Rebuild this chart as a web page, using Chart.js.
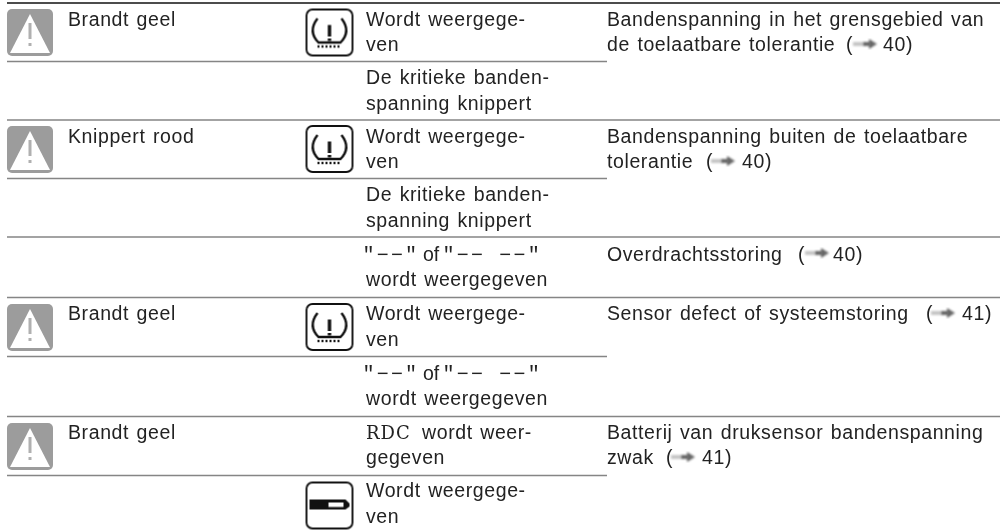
<!DOCTYPE html>
<html>
<head>
<meta charset="utf-8">
<script src="https://cdn.jsdelivr.net/npm/chart.js@4"></script>
<style>
  html, body { margin: 0; padding: 0; background: #fff; }
  #tableChart { display: block; }
</style>
</head>
<body>
<canvas id="tableChart" width="1000" height="532"></canvas>
<script>
// Lijnen van de tabel
const ruleY = [3, 61.5, 120, 178.5, 237, 297.5, 356.5, 416.5, 475.5];
const ruleEnd = [1000, 607, 1000, 607, 1000, 1000, 607, 1000, 607];

// Tekst per kolom
const lampLines = ['Brandt geel', 'Knippert rood', 'Brandt geel', 'Brandt geel'];
const lampBaselines = [26, 143, 320, 439];

const displayLines = [
    'Wordt weergege-', 'ven', 'De kritieke banden-', 'spanning knippert',
    'Wordt weergege-', 'ven', 'De kritieke banden-', 'spanning knippert',
    'wordt weergegeven', 'Wordt weergege-', 'ven', 'wordt weergegeven',
    'gegeven', 'Wordt weergege-', 'ven'
];
const displayBaselines = [26, 51, 84, 110, 143, 168, 201, 227, 286, 320, 346, 405, 464, 497, 523];

const causeLines = [
    'Bandenspanning in het grensgebied van', 'de toelaatbare tolerantie', '(', '40)',
    'Bandenspanning buiten de toelaatbare', 'tolerantie', '(', '40)',
    'Overdrachtsstoring', '(', '40)',
    'Sensor defect of systeemstoring', '(', '41)',
    'Batterij van druksensor bandenspanning', 'zwak', '(', '41)'
];
const causeX = [607, 607, 846, 883, 607, 607, 706, 742, 607, 798, 833, 607, 926, 962, 607, 607, 666, 702];
const causeBaselines = [26, 51, 51, 51, 143, 168, 168, 168, 261, 261, 261, 320, 320, 320, 439, 464, 464, 464];

// Iconen
const warningX = [30, 30, 30, 30];
const warningY = [32, 149, 327, 446];
const tireX = [329.5, 329.5, 329.5];
const tireY = [32.5, 149, 327];
const batteryX = [329.5];
const batteryY = [505.5];
const arrowX = [865, 723, 817, 943, 683];
const arrowY = [44, 161, 253, 313, 457];

const SANS = '"Liberation Sans"';
const MONO = '"Liberation Mono"';

function makeIcon(w, h, draw) {
    const c = document.createElement('canvas');
    c.width = w;
    c.height = h;
    const g = c.getContext('2d');
    g.filter = 'blur(0.5px)';
    draw(g);
    return c;
}

function roundBox(g, x, y, w, h, r) {
    g.beginPath();
    g.roundRect(x, y, w, h, r);
}

const warningIcon = makeIcon(50, 50, g => {
    g.fillStyle = '#9c9c9c';
    roundBox(g, 2, 2, 46, 47, 5);
    g.fill();
    g.fillStyle = '#fff';
    g.beginPath();
    g.moveTo(25, 7);
    g.lineTo(45, 46);
    g.lineTo(5, 46);
    g.closePath();
    g.fill();
    g.fillStyle = '#b0b0b0';
    g.fillRect(23.5, 16, 3, 16);
    g.fillRect(23.5, 36, 3, 3);
});

function iconBox(g) {
    g.strokeStyle = '#111';
    g.lineWidth = 1.9;
    g.fillStyle = '#fff';
    roundBox(g, 2, 2, 46, 46, 6);
    g.fill();
    g.stroke();
}

const tireIcon = makeIcon(50, 50, g => {
    iconBox(g);
    g.strokeStyle = '#111';
    g.lineWidth = 2.4;
    g.beginPath();
    g.moveTo(13, 11);
    g.quadraticCurveTo(3, 24, 14, 35);
    g.lineTo(36, 35);
    g.quadraticCurveTo(47, 24, 37, 11);
    g.stroke();
    g.setLineDash([2, 2]);
    g.lineWidth = 2.4;
    g.beginPath();
    g.moveTo(13, 39);
    g.lineTo(37, 39);
    g.stroke();
    g.setLineDash([]);
    g.fillStyle = '#111';
    g.fillRect(23.3, 17.5, 3.4, 11.5);
    g.fillRect(23.3, 31, 3.4, 2.5);
});

const batteryIcon = makeIcon(50, 50, g => {
    iconBox(g);
    g.fillStyle = '#111';
    g.beginPath();
    g.moveTo(5, 19);
    g.lineTo(41, 19);
    g.lineTo(45, 23);
    g.lineTo(45, 26);
    g.lineTo(41, 29);
    g.lineTo(5, 29);
    g.closePath();
    g.fill();
    g.fillStyle = '#fff';
    g.fillRect(24, 22, 15, 4.5);
});

const arrowIcon = makeIcon(28, 12, g => {
    g.filter = 'blur(0.9px)';
    g.fillStyle = '#c4c4c4';
    g.fillRect(2, 4, 10, 4);
    g.fillStyle = '#666';
    g.fillRect(12, 4, 8, 4);
    g.beginPath();
    g.moveTo(18, 1);
    g.lineTo(26, 6);
    g.lineTo(18, 11);
    g.closePath();
    g.fill();
});

function toPoints(xs, ys) {
    return xs.map((x, i) => ({ x: x, y: ys[i] }));
}

const ruleDatasets = ruleY.map((y, i) => ({
    type: 'line',
    data: [{ x: 7, y: y }, { x: ruleEnd[i], y: y }],
    borderColor: i === 0 ? '#111' : '#858585',
    borderWidth: i === 0 ? 1.6 : 1.5,
    pointRadius: 0
}));

function iconDataset(xs, ys, icon) {
    return {
        type: 'scatter',
        data: toPoints(xs, ys),
        pointStyle: icon,
        pointRadius: 10,
        clip: false
    };
}

// Tekst tekenen op de schaal van de grafiek
const tableText = {
    id: 'tableText',
    afterDatasetsDraw(chart) {
        const { ctx, scales } = chart;
        const put = (text, x, y, font, spacing, words) => {
            ctx.font = font;
            ctx.letterSpacing = spacing || '0px';
            ctx.wordSpacing = words || '0px';
            ctx.fillText(text, scales.x.getPixelForValue(x), scales.y.getPixelForValue(y));
        };
        ctx.save();
        ctx.fillStyle = '#222';
        ctx.textBaseline = 'alphabetic';
        ctx.textAlign = 'left';
        const body = '19.5px ' + SANS;
        lampLines.forEach((t, i) => put(t, 68, lampBaselines[i], body, '0.6px', '1.5px'));
        displayLines.forEach((t, i) => put(t, 366, displayBaselines[i], body, '0.6px', '1.5px'));
        causeLines.forEach((t, i) => put(t, causeX[i], causeBaselines[i], body, '0.6px', '1.5px'));

        // gemengde regels met vaste breedte
        const mono = '20px ' + MONO;
        [261, 380].forEach(y => {
            put('"−−"', 362.5, y, mono, '2.2px');
            put('of', 423, y, body);
            put('"−− −−"', 442.5, y, mono, '2.2px');
        });
        put('RDC', 366, 439, '18px "DejaVu Serif"', '1px');
        put('wordt weer-', 422, 439, body, '0.6px', '1.5px');
        ctx.restore();
    }
};

new Chart(document.getElementById('tableChart').getContext('2d'), {
    data: {
        datasets: [
            ...ruleDatasets,
            iconDataset(warningX, warningY, warningIcon),
            iconDataset(tireX, tireY, tireIcon),
            iconDataset(batteryX, batteryY, batteryIcon),
            iconDataset(arrowX, arrowY, arrowIcon)
        ]
    },
    options: {
        responsive: false,
        animation: false,
        layout: { padding: 0, autoPadding: false },
        events: [],
        plugins: {
            legend: { display: false },
            title: { display: false },
            tooltip: { enabled: false }
        },
        scales: {
            x: { type: 'linear', min: 0, max: 1000, display: false },
            y: { type: 'linear', min: 0, max: 532, reverse: true, display: false }
        }
    },
    plugins: [tableText]
});
</script>
</body>
</html>
